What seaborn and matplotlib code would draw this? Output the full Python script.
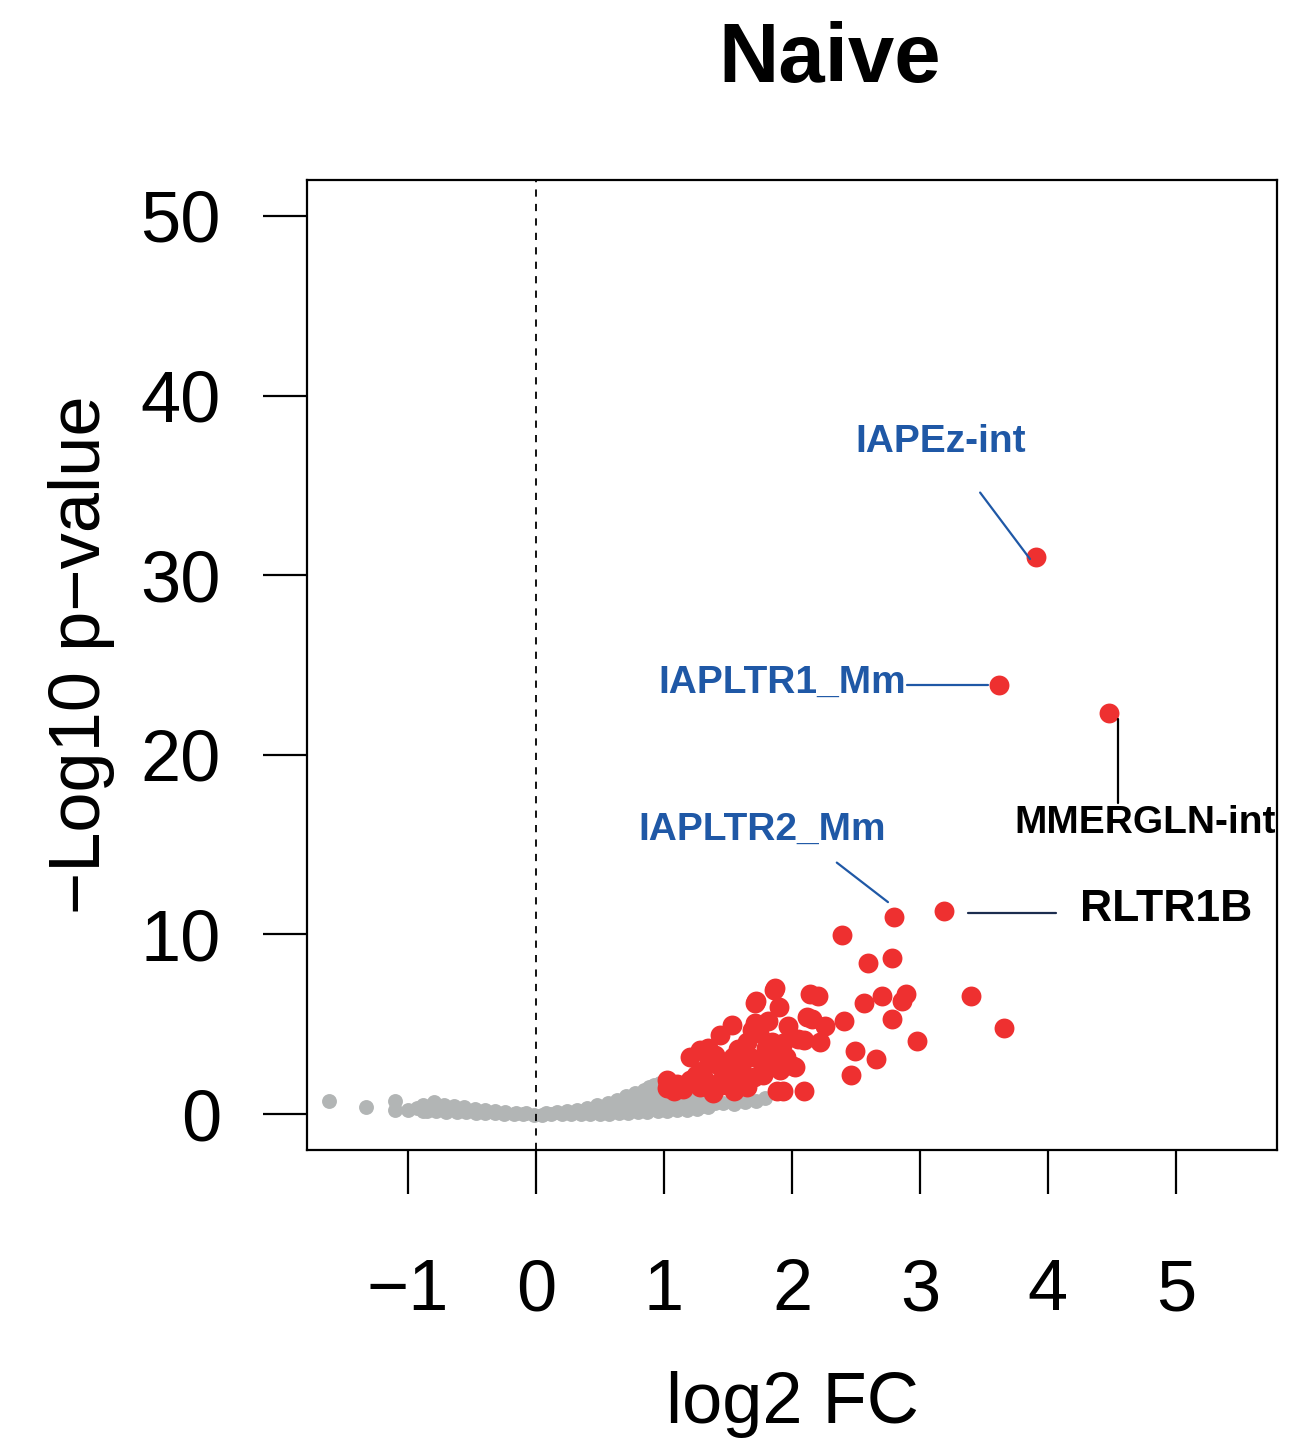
import numpy as np
import pandas as pd
import matplotlib
matplotlib.use("Agg")
import matplotlib.pyplot as plt
import seaborn as sns

# significant (red) points: log2 FC, -log10 p
red_x = [3.91, 3.62, 4.48, 2.80, 3.19,
         2.39, 2.59, 2.78, 1.87, 1.71, 1.90, 2.14, 2.20, 2.56, 2.70, 2.89, 2.86,
         3.40, 3.66, 2.78, 2.41, 2.98, 2.49, 2.66, 2.46, 2.09, 1.93, 1.88, 2.22,
         2.26, 2.12, 2.16, 2.02, 1.97, 2.05, 2.09, 1.81, 1.71, 1.69, 1.53, 1.44,
         1.65, 1.84, 1.93, 1.88, 1.67, 1.54, 1.34, 1.28, 1.20, 1.41, 1.91, 1.77,
         1.70, 1.57, 1.46, 1.65, 1.52, 1.36, 1.28, 1.20, 1.02, 1.10, 1.02, 1.38,
         2.01, 1.30, 1.35, 1.25, 1.15, 1.48, 1.60, 1.75, 1.80, 1.58, 1.40, 1.32,
         1.45, 1.08, 1.55, 1.85, 1.95, 1.74, 1.62, 1.72, 1.86]
red_y = [31.0, 23.9, 22.3, 10.95, 11.3,
         9.96, 8.4, 8.7, 7.0, 6.2, 5.96, 6.7, 6.6, 6.2, 6.6, 6.7, 6.3,
         6.6, 4.8, 5.3, 5.2, 4.05, 3.5, 3.06, 2.17, 1.3, 1.3, 1.3, 4.0,
         4.9, 5.4, 5.3, 2.6, 4.9, 4.2, 4.1, 5.2, 5.05, 4.7, 4.95, 4.4,
         4.0, 4.0, 3.95, 3.4, 3.2, 3.2, 3.7, 3.55, 3.2, 2.8, 2.45, 2.2,
         2.05, 2.05, 2.05, 1.5, 1.7, 1.5, 1.5, 1.9, 1.9, 1.7, 1.45, 1.2,
         2.7, 2.4, 2.9, 2.2, 1.4, 2.5, 2.6, 3.0, 3.7, 3.6, 3.3, 1.9,
         1.6, 1.3, 1.3, 2.9, 3.2, 4.5, 1.9, 6.3, 6.9]

# non-significant (grey) points
grey_x = [-1.62, -1.33, -1.10, -1.10, -1.00, -0.93, -0.88,
          -0.85, -0.78, -0.70, -0.62, -0.55, -0.47, -0.40, -0.32, -0.25, -0.17,
          -0.10, -0.02, 0.05, 0.12, 0.20, 0.27, 0.35, 0.42, 0.50, 0.57, 0.65,
          0.72, 0.80, 0.87, 0.95, 1.02, 1.10, 1.18, 1.26,
          -0.88, -0.80, -0.72, -0.64, -0.56, -0.48, -0.40, -0.32, -0.24, -0.16,
          -0.08, 0.08, 0.16, 0.24, 0.32, 0.40, 0.48, 0.56, 0.63, 0.70, 0.77,
          0.84, 0.88, 0.92, 0.97,
          0.55, 0.62, 0.68, 0.75, 0.82, 0.90, 0.98, 0.72, 0.80, 0.88, 0.95,
          1.05, 1.12, 1.20, 0.85, 0.93, 1.00, 1.05,
          1.05, 1.15, 1.22, 1.30, 1.34, 1.40, 1.46, 1.55, 1.63, 1.72, 1.79,
          1.28, 1.20]
grey_y = [0.70, 0.40, 0.70, 0.25, 0.20, 0.35, 0.15,
          0.17, 0.15, 0.13, 0.12, 0.10, 0.08, 0.06, 0.04, 0.02, 0.00,
          -0.02, -0.03, -0.03, -0.02, -0.01, 0.00, 0.00, 0.01, 0.02, 0.03, 0.05,
          0.07, 0.10, 0.12, 0.15, 0.18, 0.20, 0.25, 0.30,
          0.50, 0.65, 0.50, 0.45, 0.38, 0.30, 0.24, 0.18, 0.12, 0.08,
          0.04, 0.06, 0.10, 0.16, 0.24, 0.35, 0.48, 0.62, 0.78, 0.98, 1.15,
          1.35, 1.50, 1.60, 1.75,
          0.30, 0.40, 0.50, 0.60, 0.70, 0.85, 1.00, 0.35, 0.45, 0.50, 0.60,
          0.75, 0.90, 1.00, 0.95, 1.15, 1.30, 1.45,
          0.50, 0.45, 0.55, 0.45, 0.40, 0.60, 0.60, 0.55, 0.67, 0.70, 0.90,
          0.75, 0.70]

# labels: name, text position, segment start, segment end, colour, size
lab_names = ["IAPEz-int", "IAPLTR1_Mm", "MMERGLN-int", "IAPLTR2_Mm", "RLTR1B"]
lab_pos = [(3.16, 37.4), (1.92, 24.0), (4.76, 16.2), (1.77, 15.8), (4.92, 11.4)]
seg_a = [(3.47, 34.6), (2.90, 23.9), (4.55, 22.0), (2.35, 14.0), (3.375, 11.2)]
seg_b = [(3.86, 30.9), (3.53, 23.9), (4.55, 17.3), (2.75, 11.8), (4.06, 11.2)]
lab_cols = ["#1f58a6", "#1f58a6", "black", "#1f58a6", "black"]
seg_cols = ["#1f58a6", "#1f58a6", "black", "#1f58a6", "#1c2d4f"]
lab_sizes = [28, 28, 28, 28, 32]

df = pd.DataFrame({
    "log2FC": grey_x + red_x,
    "nlogp": grey_y + red_y,
    "sig": ["no"] * len(grey_x) + ["yes"] * len(red_x),
})

sns.set_style("white")
plt.rcParams["font.family"] = ["Liberation Sans", "DejaVu Sans"]
plt.rcParams["text.color"] = "black"
plt.rcParams["xtick.color"] = "black"
plt.rcParams["ytick.color"] = "black"

fig = plt.figure(figsize=(12.94, 14.56), dpi=100)
ax = fig.add_axes([307/1294, 1-1150/1456, 970/1294, 970/1456])

sns.scatterplot(data=df[df.sig == "no"], x="log2FC", y="nlogp", color="#b2b5b5",
                s=115, linewidth=0, ax=ax, legend=False)
sns.scatterplot(data=df[df.sig == "yes"], x="log2FC", y="nlogp", color="#ee3030",
                s=205, linewidth=0, ax=ax, legend=False)

ax.axvline(0, color="black", lw=1.3, ls=(0, (4, 4)))

for i in range(len(lab_names)):
    ax.plot([seg_a[i][0], seg_b[i][0]], [seg_a[i][1], seg_b[i][1]],
            color=seg_cols[i], lw=1.6)
    ax.text(lab_pos[i][0], lab_pos[i][1], lab_names[i], color=lab_cols[i],
            fontsize=lab_sizes[i], fontweight="bold", ha="center", va="center",
            clip_on=False)

ax.set_xlim(-1.79, 5.79)
ax.set_ylim(-2.0, 52.0)
ax.set_xticks([-1, 0, 1, 2, 3, 4, 5])
ax.set_yticks([0, 10, 20, 30, 40, 50])
ax.tick_params(axis="both", bottom=True, left=True, direction="out", length=32,
               width=1.6, labelsize=52, color="black", labelcolor="black")
ax.tick_params(axis="x", pad=46)
ax.tick_params(axis="y", pad=30)
ax.set_xlabel("")
ax.set_ylabel("")
for sp in ax.spines.values():
    sp.set_color("black")
    sp.set_linewidth(1.6)

fig.text(830/1294, 1-60/1456, "Naive", ha="center", va="center",
         fontsize=60, fontweight="bold", color="black")
fig.text(792/1294, 1-1405/1456, "log2 FC", ha="center", va="center",
         fontsize=52, color="black")
fig.text(82/1294, 1-655/1456, "\u2212Log10 p\u2212value", ha="center", va="center",
         fontsize=52, rotation=90, color="black")

fig.savefig("out.png", dpi=100)
